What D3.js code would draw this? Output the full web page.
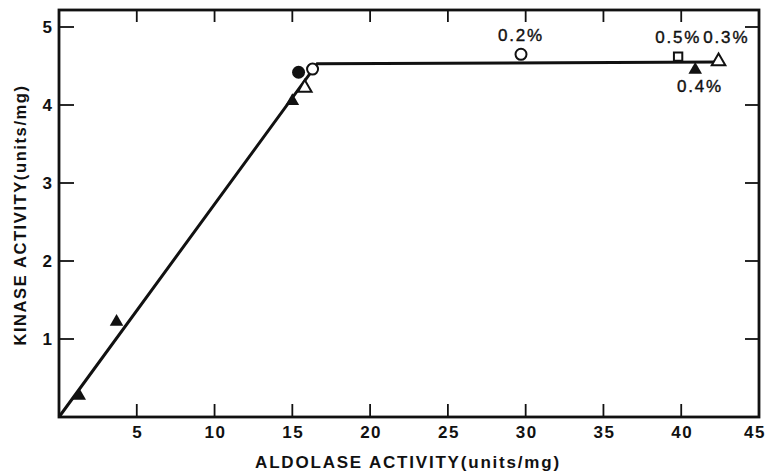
<!DOCTYPE html>
<html>
<head>
<meta charset="utf-8">
<style>
  body { margin: 0; background: #fff; }
  svg { display: block; }
  .tick-label { font: bold 17px "Liberation Sans", Arial, sans-serif; letter-spacing: 1.5px; fill: #111; }
  .title { font: bold 17px "Liberation Sans", Arial, sans-serif; letter-spacing: 1.8px; fill: #111; }
  .ytitle { font: bold 16.5px "Liberation Sans", Arial, sans-serif; letter-spacing: 1.6px; fill: #111; }
  .note { font: 17px "Liberation Sans", Arial, sans-serif; letter-spacing: 1.8px; fill: #111; stroke: #111; stroke-width: 0.4px; }
</style>
</head>
<body>
<svg width="769" height="473"></svg>
<script src="https://d3js.org/d3.v7.min.js"></script>
<script>
// values
var xTicks = [5, 10, 15, 20, 25, 30, 35, 40, 45];
var yTicks = [1, 2, 3, 4, 5];

var fitX = [0, 16.6, 42.4];
var fitY = [0, 4.53, 4.55];

var filledTriX = [1.3, 3.7, 15.0, 40.9];
var filledTriY = [0.27, 1.22, 4.05, 4.45];
var openTriX = [15.8, 42.4];
var openTriY = [4.22, 4.56];
var filledCircX = [15.4];
var filledCircY = [4.42];
var openCircX = [16.3, 29.7];
var openCircY = [4.46, 4.65];
var openSqX = [39.8];
var openSqY = [4.62];

var noteText = ["0.2%", "0.5%", "0.3%", "0.4%"];
var noteX = [29.7, 39.8, 42.9, 41.2];
var noteY = [4.82, 4.8, 4.8, 4.17];

(function() {
  var svg = d3.select("svg");
  var left = 59, right = 759, top = 10, bottom = 417;

  var x = d3.scaleLinear().domain([0, 45]).range([left, right]);
  var y = d3.scaleLinear().domain([0, 5]).range([bottom, 27]);

  // frame
  svg.append("rect")
    .attr("x", left).attr("y", top)
    .attr("width", right - left).attr("height", bottom - top)
    .attr("fill", "none").attr("stroke", "#111").attr("stroke-width", 2.8);

  // bottom / top ticks
  var xt = svg.append("g");
  xt.selectAll(".bt").data(xTicks.slice(0, -1)).enter().append("line")
    .attr("x1", x).attr("x2", x)
    .attr("y1", bottom).attr("y2", bottom - 13)
    .attr("stroke", "#111").attr("stroke-width", 1.8);
  xt.selectAll(".tt").data(xTicks.slice(0, -1)).enter().append("line")
    .attr("x1", x).attr("x2", x)
    .attr("y1", top).attr("y2", top + 12)
    .attr("stroke", "#111").attr("stroke-width", 1.8);
  xt.selectAll("text").data(xTicks).enter().append("text")
    .attr("class", "tick-label")
    .attr("x", function(d) { return Math.min(x(d) + 1, 755); })
    .attr("y", 438)
    .attr("text-anchor", "middle")
    .text(function(d) { return d; });

  // left / right ticks
  var yt = svg.append("g");
  yt.selectAll(".lt").data(yTicks).enter().append("line")
    .attr("x1", left).attr("x2", left + 15)
    .attr("y1", y).attr("y2", y)
    .attr("stroke", "#111").attr("stroke-width", 1.8);
  yt.selectAll(".rt").data(yTicks).enter().append("line")
    .attr("x1", right).attr("x2", right - 14)
    .attr("y1", y).attr("y2", y)
    .attr("stroke", "#111").attr("stroke-width", 1.8);
  yt.selectAll("text").data(yTicks).enter().append("text")
    .attr("class", "tick-label")
    .attr("x", 48)
    .attr("y", function(d) { return y(d) + 6; })
    .attr("text-anchor", "middle")
    .text(function(d) { return d; });

  // axis titles
  svg.append("text").attr("class", "title")
    .attr("x", 408).attr("y", 468)
    .attr("text-anchor", "middle")
    .text("ALDOLASE ACTIVITY(units/mg)");
  svg.append("text").attr("class", "ytitle")
    .attr("transform", "translate(26,215) rotate(-90)")
    .attr("text-anchor", "middle")
    .text("KINASE ACTIVITY(units/mg)");

  // fitted broken line
  var line = d3.line()
    .x(function(d) { return x(d[0]); })
    .y(function(d) { return y(d[1]); });
  svg.append("path")
    .datum(d3.zip(fitX, fitY))
    .attr("d", line)
    .attr("fill", "none").attr("stroke", "#111").attr("stroke-width", 3);

  var tri = d3.symbol().type(d3.symbolTriangle).size(80);
  var sq = d3.symbol().type(d3.symbolSquare).size(70);

  svg.append("g").selectAll("path").data(d3.zip(filledTriX, filledTriY)).enter().append("path")
    .attr("transform", function(d) { return "translate(" + x(d[0]) + "," + y(d[1]) + ")"; })
    .attr("d", tri).attr("fill", "#111");
  svg.append("g").selectAll("path").data(d3.zip(openTriX, openTriY)).enter().append("path")
    .attr("transform", function(d) { return "translate(" + x(d[0]) + "," + y(d[1]) + ")"; })
    .attr("d", tri).attr("fill", "#fff").attr("stroke", "#111").attr("stroke-width", 2);
  svg.append("g").selectAll("path").data(d3.zip(openSqX, openSqY)).enter().append("path")
    .attr("transform", function(d) { return "translate(" + x(d[0]) + "," + y(d[1]) + ")"; })
    .attr("d", sq).attr("fill", "#fff").attr("stroke", "#111").attr("stroke-width", 2);
  svg.append("g").selectAll("circle").data(d3.zip(filledCircX, filledCircY)).enter().append("circle")
    .attr("cx", function(d) { return x(d[0]); })
    .attr("cy", function(d) { return y(d[1]); })
    .attr("r", 6.5).attr("fill", "#111");
  svg.append("g").selectAll("circle").data(d3.zip(openCircX, openCircY)).enter().append("circle")
    .attr("cx", function(d) { return x(d[0]); })
    .attr("cy", function(d) { return y(d[1]); })
    .attr("r", 5.5).attr("fill", "#fff").attr("stroke", "#111").attr("stroke-width", 2);

  // percentage notes
  svg.append("g").selectAll("text").data(d3.zip(noteText, noteX, noteY)).enter().append("text")
    .attr("class", "note")
    .attr("x", function(d) { return x(d[1]); })
    .attr("y", function(d) { return y(d[2]); })
    .attr("text-anchor", "middle")
    .text(function(d) { return d[0]; });
})();
</script>
</body>
</html>
